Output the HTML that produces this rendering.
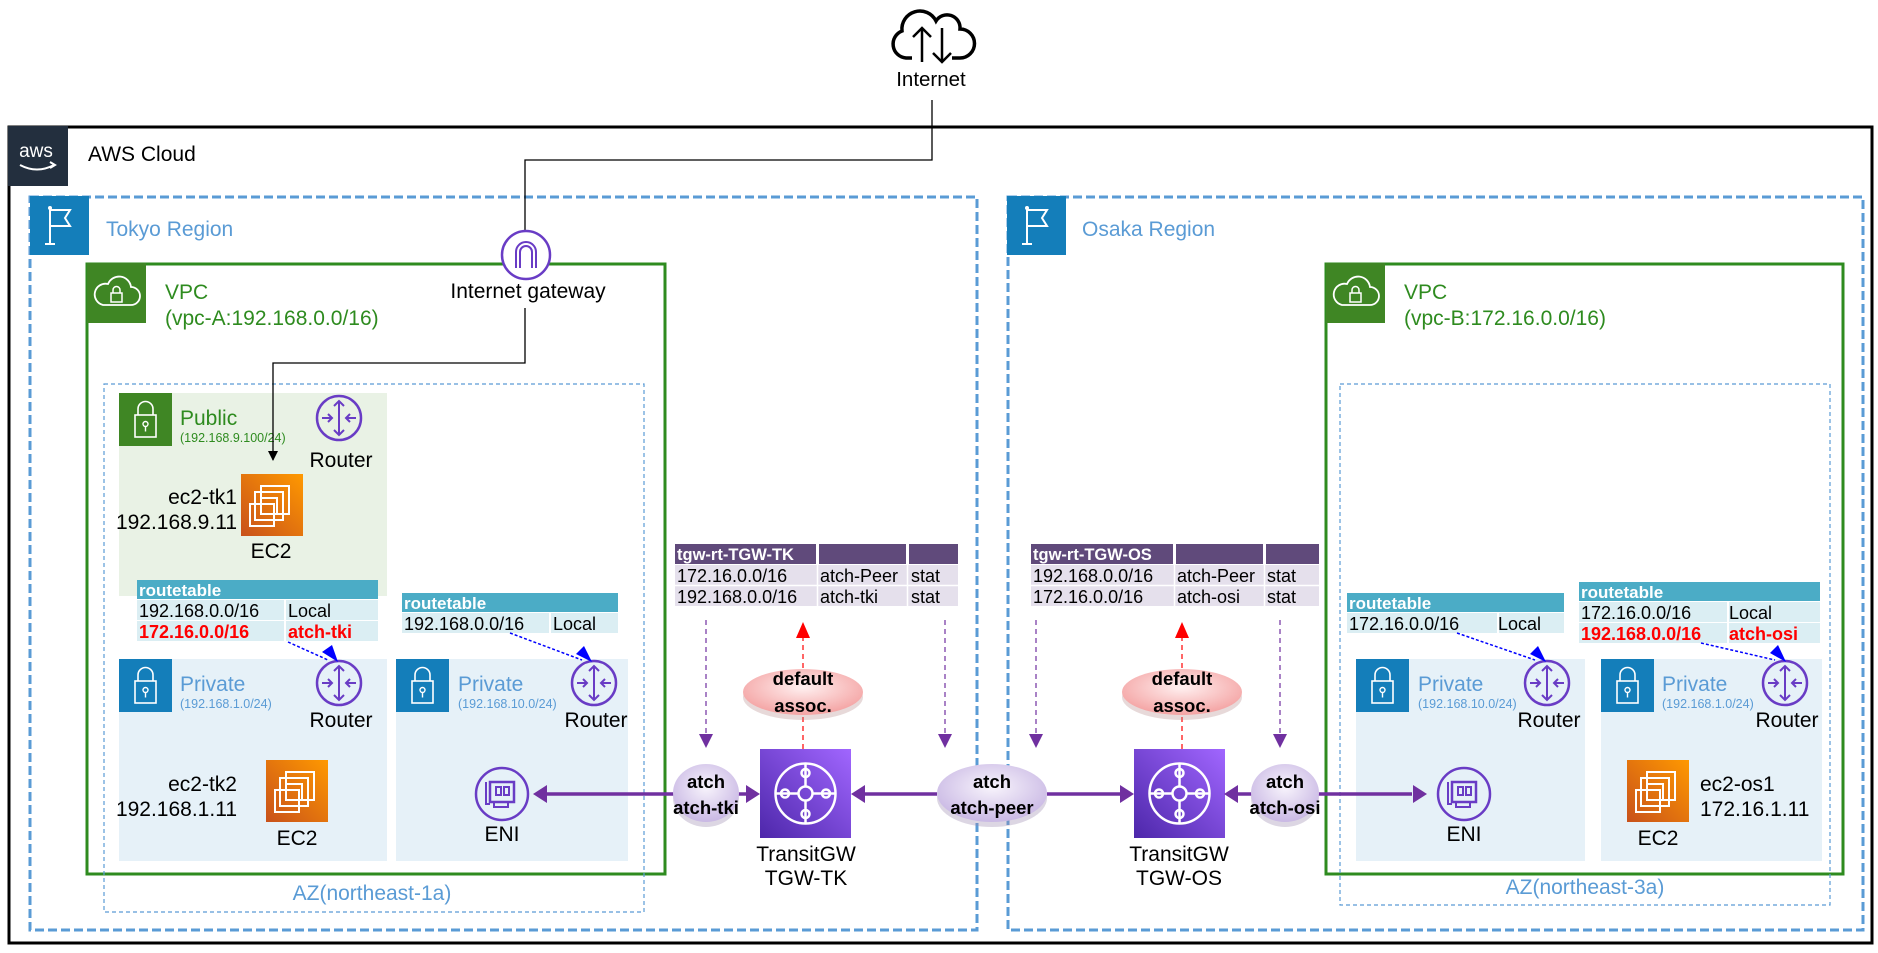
<!DOCTYPE html>
<html><head><meta charset="utf-8"><style>
html,body{margin:0;padding:0;background:#fff;}
svg{display:block;font-family:"Liberation Sans",Arial,sans-serif;}
</style></head><body>
<svg width="1878" height="953" viewBox="0 0 1878 953" xmlns="http://www.w3.org/2000/svg">
<defs>
<linearGradient id="ec2" x1="0" y1="1" x2="1" y2="0"><stop offset="0" stop-color="#c8511b"/><stop offset="1" stop-color="#ff9900"/></linearGradient>
<linearGradient id="tgw" x1="0" y1="1" x2="1" y2="0"><stop offset="0" stop-color="#4d27aa"/><stop offset="1" stop-color="#a166ff"/></linearGradient>
<radialGradient id="pinkE" cx="0.5" cy="0.4" r="0.6"><stop offset="0" stop-color="#fff0f0"/><stop offset="1" stop-color="#f4a3a3"/></radialGradient>
<radialGradient id="purE" cx="0.5" cy="0.4" r="0.6"><stop offset="0" stop-color="#f8f4fc"/><stop offset="1" stop-color="#c9b8e4"/></radialGradient>
<marker id="ab" markerWidth="10" markerHeight="10" refX="9" refY="5" orient="auto" markerUnits="userSpaceOnUse"><path d="M0,0 L10,5 L0,10 z" fill="#000"/></marker>
<g id="router"><circle r="22" fill="none" stroke="#693cc5" stroke-width="2.5"/><path d="M0,-17V17M-17,0h10M17,0h-10M-5,-12L0,-17L5,-12M-5,12L0,17L5,12M-11,-4L-7,0L-11,4M11,-4L7,0L11,4" fill="none" stroke="#693cc5" stroke-width="2"/></g>
<g id="eni"><circle r="26" fill="none" stroke="#693cc5" stroke-width="2.5"/><rect x="-12" y="-12" width="24" height="20" fill="none" stroke="#693cc5" stroke-width="2.5"/><rect x="-6" y="-7" width="5" height="8" fill="none" stroke="#693cc5" stroke-width="2"/><rect x="2" y="-7" width="5" height="8" fill="none" stroke="#693cc5" stroke-width="2"/><path d="M-16,-12v22h4M-8,8v5h14v-5" fill="none" stroke="#693cc5" stroke-width="2"/></g>
<g id="ec2i"><rect width="62" height="62" fill="url(#ec2)"/><rect x="20" y="12" width="28" height="28" fill="none" stroke="#fff" stroke-width="2"/><rect x="14" y="18" width="28" height="28" fill="none" stroke="#fff" stroke-width="2"/><rect x="20" y="24" width="16" height="16" fill="none" stroke="#fff" stroke-width="2"/><rect x="9" y="30" width="24" height="22" fill="none" stroke="#fff" stroke-width="2"/></g>
<g id="tgwi"><rect width="91" height="89" fill="url(#tgw)"/><g fill="none" stroke="#fff" stroke-width="2.5"><circle cx="45.5" cy="44.5" r="30"/><circle cx="45.5" cy="44.5" r="7"/><path d="M45.5,14.5V37.5M45.5,51.5V74.5M15.5,44.5H38.5M52.5,44.5H75.5"/><circle cx="45.5" cy="24" r="4"/><circle cx="45.5" cy="65" r="4"/><circle cx="25" cy="44.5" r="4"/><circle cx="66" cy="44.5" r="4"/></g></g>
<g id="lockB"><rect width="53" height="53" fill="#147eba"/><rect x="16" y="22" width="21" height="22" fill="none" stroke="#fff" stroke-width="1.6"/><path d="M19,22v-6a7.5,7.5 0 0 1 15,0v6" fill="none" stroke="#fff" stroke-width="1.6"/><circle cx="26.5" cy="31" r="2.5" fill="none" stroke="#fff" stroke-width="1.4"/><path d="M26.5,33.5v5" stroke="#fff" stroke-width="1.4"/></g>
<g id="lockG"><rect width="53" height="53" fill="#3f8624"/><rect x="16" y="22" width="21" height="22" fill="none" stroke="#fff" stroke-width="1.6"/><path d="M19,22v-6a7.5,7.5 0 0 1 15,0v6" fill="none" stroke="#fff" stroke-width="1.6"/><circle cx="26.5" cy="31" r="2.5" fill="none" stroke="#fff" stroke-width="1.4"/><path d="M26.5,33.5v5" stroke="#fff" stroke-width="1.4"/></g>
<g id="vpcI"><rect width="59" height="60" fill="#3f8624"/><path d="M16,42h28a9,9 0 0 0 0-18a12,12 0 0 0-23-3a10,10 0 0 0-5,21z" fill="none" stroke="#fff" stroke-width="1.8"/><rect x="24" y="30" width="11" height="9" fill="none" stroke="#fff" stroke-width="1.5"/><path d="M26,30v-3a3.5,3.5 0 0 1 7,0v3" fill="none" stroke="#fff" stroke-width="1.5"/></g>
<g id="regI"><rect width="59" height="59" fill="#147eba"/><path d="M20,12V48M15,48h10M20,14h20l-5,8 5,8H20" fill="none" stroke="#fff" stroke-width="2"/><circle cx="20" cy="12" r="2" fill="#fff"/></g>
</defs>

<!-- Internet -->
<path d="M912,58h-6a14,14 0 0 1-4-27a18,18 0 0 1 34-10a13,13 0 0 1 24,8a12,12 0 0 1 0,29h-8" fill="none" stroke="#000" stroke-width="3.5"/>
<path d="M922,62V28M913,37l9-9 9,9M942,28v34M933,53l9,9 9-9" fill="none" stroke="#000" stroke-width="2.5"/>
<text x="931" y="86" font-size="20.5" text-anchor="middle">Internet</text>

<!-- AWS cloud -->
<rect x="9" y="127" width="1863" height="816" fill="none" stroke="#000" stroke-width="3"/>
<rect x="8" y="126" width="60" height="60" fill="#232f3e"/>
<text x="36" y="157" font-size="19" fill="#fff" text-anchor="middle">aws</text>
<path d="M20,165q17,9 34,0M50,162l5,3-5,3" fill="none" stroke="#fff" stroke-width="2"/>
<text x="88" y="161" font-size="21">AWS Cloud</text>

<!-- Regions -->
<rect x="30" y="197" width="947" height="733" fill="none" stroke="#5a9bd5" stroke-width="3" stroke-dasharray="9,4"/>
<use href="#regI" x="30" y="196"/>
<text x="106" y="236" font-size="21" fill="#5a9bd5">Tokyo Region</text>
<rect x="1008" y="197" width="855" height="733" fill="none" stroke="#5a9bd5" stroke-width="3" stroke-dasharray="9,4"/>
<use href="#regI" x="1007" y="196"/>
<text x="1082" y="236" font-size="21" fill="#5a9bd5">Osaka Region</text>

<!-- VPCs -->
<rect x="87" y="264" width="578" height="610" fill="none" stroke="#2e8b1f" stroke-width="3"/>
<use href="#vpcI" x="87" y="263"/>
<text x="165" y="299" font-size="21" fill="#2e8b1f">VPC</text>
<text x="165" y="325" font-size="21" fill="#2e8b1f">(vpc-A:192.168.0.0/16)</text>
<rect x="1326" y="264" width="517" height="610" fill="none" stroke="#2e8b1f" stroke-width="3"/>
<use href="#vpcI" x="1326" y="263"/>
<text x="1404" y="299" font-size="21" fill="#2e8b1f">VPC</text>
<text x="1404" y="325" font-size="21" fill="#2e8b1f">(vpc-B:172.16.0.0/16)</text>

<!-- AZ -->
<rect x="104" y="384" width="540" height="528" fill="none" stroke="#5a9bd5" stroke-width="1.2" stroke-dasharray="4,3"/>
<text x="372" y="900" font-size="21" fill="#5a9bd5" text-anchor="middle">AZ(northeast-1a)</text>
<rect x="1340" y="384" width="490" height="521" fill="none" stroke="#5a9bd5" stroke-width="1.2" stroke-dasharray="4,3"/>
<text x="1585" y="894" font-size="21" fill="#5a9bd5" text-anchor="middle">AZ(northeast-3a)</text>

<!-- Public subnet -->
<rect x="119" y="393" width="268" height="203" fill="#e9f2e5"/>
<use href="#lockG" x="119" y="393"/>
<text x="180" y="425" font-size="21" fill="#2e8b1f">Public</text>
<text x="180" y="442" font-size="12.5" fill="#2e8b1f">(192.168.9.100/24)</text>
<use href="#router" x="339" y="418"/>
<text x="341" y="467" font-size="21" text-anchor="middle">Router</text>
<use href="#ec2i" x="241" y="474"/>
<text x="237" y="504" font-size="21" text-anchor="end">ec2-tk1</text>
<text x="237" y="529" font-size="21" text-anchor="end">192.168.9.11</text>
<text x="271" y="558" font-size="21" text-anchor="middle">EC2</text>

<!-- Private subnets Tokyo -->
<rect x="119" y="659" width="268" height="202" fill="#e6f1f8"/>
<use href="#lockB" x="119" y="659"/>
<text x="180" y="691" font-size="21" fill="#5a9bd5">Private</text>
<text x="180" y="708" font-size="12.5" fill="#5a9bd5">(192.168.1.0/24)</text>
<use href="#router" x="339" y="683"/>
<text x="341" y="727" font-size="21" text-anchor="middle">Router</text>
<use href="#ec2i" x="266" y="760"/>
<text x="237" y="791" font-size="21" text-anchor="end">ec2-tk2</text>
<text x="237" y="816" font-size="21" text-anchor="end">192.168.1.11</text>
<text x="297" y="845" font-size="21" text-anchor="middle">EC2</text>

<rect x="396" y="659" width="232" height="202" fill="#e6f1f8"/>
<use href="#lockB" x="396" y="659"/>
<text x="458" y="691" font-size="21" fill="#5a9bd5">Private</text>
<text x="458" y="708" font-size="12.5" fill="#5a9bd5">(192.168.10.0/24)</text>
<use href="#router" x="594" y="683"/>
<text x="596" y="727" font-size="21" text-anchor="middle">Router</text>
<use href="#eni" x="502" y="794"/>
<text x="502" y="841" font-size="21" text-anchor="middle">ENI</text>

<!-- Private subnets Osaka -->
<rect x="1356" y="659" width="229" height="202" fill="#e6f1f8"/>
<use href="#lockB" x="1356" y="659"/>
<text x="1418" y="691" font-size="21" fill="#5a9bd5">Private</text>
<text x="1418" y="708" font-size="12.5" fill="#5a9bd5">(192.168.10.0/24)</text>
<use href="#router" x="1547" y="683"/>
<text x="1549" y="727" font-size="21" text-anchor="middle">Router</text>
<use href="#eni" x="1464" y="794"/>
<text x="1464" y="841" font-size="21" text-anchor="middle">ENI</text>

<rect x="1601" y="659" width="221" height="202" fill="#e6f1f8"/>
<use href="#lockB" x="1601" y="659"/>
<text x="1662" y="691" font-size="21" fill="#5a9bd5">Private</text>
<text x="1662" y="708" font-size="12.5" fill="#5a9bd5">(192.168.1.0/24)</text>
<use href="#router" x="1785" y="683"/>
<text x="1787" y="727" font-size="21" text-anchor="middle">Router</text>
<use href="#ec2i" x="1627" y="760"/>
<text x="1700" y="791" font-size="21">ec2-os1</text>
<text x="1700" y="816" font-size="21">172.16.1.11</text>
<text x="1658" y="845" font-size="21" text-anchor="middle">EC2</text>

<!-- IGW -->
<path d="M932,100V160H525V231" fill="none" stroke="#000" stroke-width="1.3"/>
<circle cx="526" cy="255" r="24" fill="#fff" stroke="#693cc5" stroke-width="2.5"/>
<path d="M516,268v-16a10,10 0 0 1 20,0v16M520,268v-16a6,6 0 0 1 12,0v16" fill="none" stroke="#693cc5" stroke-width="2"/>
<text x="528" y="298" font-size="21" text-anchor="middle">Internet gateway</text>
<path d="M525,308V363H273V460" fill="none" stroke="#000" stroke-width="1.3" marker-end="url(#ab)"/>

<!-- route tables -->
<g font-size="18">
<rect x="137" y="580" width="241" height="19" fill="#4bacc6"/>
<text x="139" y="596" fill="#fff" font-weight="bold" font-size="17">routetable</text>
<rect x="137" y="600" width="147" height="20" fill="#dbeef3"/><rect x="286" y="600" width="92" height="20" fill="#dbeef3"/>
<rect x="137" y="621" width="147" height="20" fill="#dbeef3"/><rect x="286" y="621" width="92" height="20" fill="#dbeef3"/>
<text x="139" y="617">192.168.0.0/16</text><text x="288" y="617">Local</text>
<text x="139" y="638" fill="#ff0000" font-weight="bold">172.16.0.0/16</text><text x="288" y="638" fill="#ff0000" font-weight="bold">atch-tki</text>

<rect x="402" y="593" width="216" height="19" fill="#4bacc6"/>
<text x="404" y="609" fill="#fff" font-weight="bold" font-size="17">routetable</text>
<rect x="402" y="613" width="147" height="20" fill="#dbeef3"/><rect x="551" y="613" width="67" height="20" fill="#dbeef3"/>
<text x="404" y="630">192.168.0.0/16</text><text x="553" y="630">Local</text>

<rect x="1347" y="593" width="217" height="19" fill="#4bacc6"/>
<text x="1349" y="609" fill="#fff" font-weight="bold" font-size="17">routetable</text>
<rect x="1347" y="613" width="150" height="20" fill="#dbeef3"/><rect x="1499" y="613" width="65" height="20" fill="#dbeef3"/>
<text x="1349" y="630">172.16.0.0/16</text><text x="1498" y="630">Local</text>

<rect x="1579" y="582" width="241" height="19" fill="#4bacc6"/>
<text x="1581" y="598" fill="#fff" font-weight="bold" font-size="17">routetable</text>
<rect x="1579" y="602" width="148" height="20" fill="#dbeef3"/><rect x="1729" y="602" width="91" height="20" fill="#dbeef3"/>
<rect x="1579" y="623" width="148" height="20" fill="#dbeef3"/><rect x="1729" y="623" width="91" height="20" fill="#dbeef3"/>
<text x="1581" y="619">172.16.0.0/16</text><text x="1729" y="619">Local</text>
<text x="1581" y="640" fill="#ff0000" font-weight="bold">192.168.0.0/16</text><text x="1729" y="640" fill="#ff0000" font-weight="bold">atch-osi</text>

<!-- TGW tables -->
<rect x="675" y="544" width="141" height="20" fill="#604a7b"/><rect x="819" y="544" width="87" height="20" fill="#604a7b"/><rect x="909" y="544" width="49" height="20" fill="#604a7b"/>
<text x="677" y="560" fill="#fff" font-weight="bold" font-size="16.5">tgw-rt-TGW-TK</text>
<rect x="675" y="565" width="283" height="41" fill="#e5e0ec"/>
<path d="M675,585.5H958M817.5,565V606M907.5,565V606" stroke="#fff" stroke-width="1.5"/>
<text x="677" y="582">172.16.0.0/16</text><text x="820" y="582">atch-Peer</text><text x="911" y="582">stat</text>
<text x="677" y="603">192.168.0.0/16</text><text x="820" y="603">atch-tki</text><text x="911" y="603">stat</text>

<rect x="1031" y="544" width="142" height="20" fill="#604a7b"/><rect x="1176" y="544" width="87" height="20" fill="#604a7b"/><rect x="1266" y="544" width="53" height="20" fill="#604a7b"/>
<text x="1033" y="560" fill="#fff" font-weight="bold" font-size="16.5">tgw-rt-TGW-OS</text>
<rect x="1031" y="565" width="288" height="41" fill="#e5e0ec"/>
<path d="M1031,585.5H1319M1174.5,565V606M1264.5,565V606" stroke="#fff" stroke-width="1.5"/>
<text x="1033" y="582">192.168.0.0/16</text><text x="1177" y="582">atch-Peer</text><text x="1267" y="582">stat</text>
<text x="1033" y="603">172.16.0.0/16</text><text x="1177" y="603">atch-osi</text><text x="1267" y="603">stat</text>
</g>

<!-- blue dashed route arrows -->
<g stroke="#0000ff" stroke-width="1.5" stroke-dasharray="3,2" fill="none">
<path d="M288,642L328,660"/><path d="M510,633L582,660"/><path d="M1457,633L1535,660"/><path d="M1701,643L1775,660"/>
</g>
<g fill="#0000ff">
<path d="M338,662L322,652L332,645z"/><path d="M592,662L576,654L584,646z"/><path d="M1546,662L1530,654L1538,646z"/><path d="M1786,662L1770,653L1778,645z"/>
</g>

<!-- purple dashed down arrows -->
<g stroke="#7030a0" stroke-width="1.2" stroke-dasharray="5,4" fill="none">
<path d="M706,620V735"/><path d="M945,620V735"/><path d="M1036,620V735"/><path d="M1280,620V735"/>
</g>
<g fill="#7030a0">
<path d="M699,734h14l-7,14z"/><path d="M938,734h14l-7,14z"/><path d="M1029,734h14l-7,14z"/><path d="M1273,734h14l-7,14z"/>
</g>

<!-- red dashed up -->
<g stroke="#ff0000" stroke-width="1.2" stroke-dasharray="5,4" fill="none"><path d="M803,749V636"/><path d="M1182,749V636"/></g>
<g fill="#ff0000"><path d="M796,638h14l-7,-16z"/><path d="M1175,638h14l-7,-16z"/></g>

<!-- TGW -->
<use href="#tgwi" x="760" y="749"/>
<text x="806" y="861" font-size="21" text-anchor="middle">TransitGW</text>
<text x="806" y="885" font-size="21" text-anchor="middle">TGW-TK</text>
<use href="#tgwi" x="1134" y="749"/>
<text x="1179" y="861" font-size="21" text-anchor="middle">TransitGW</text>
<text x="1179" y="885" font-size="21" text-anchor="middle">TGW-OS</text>

<!-- purple connectors -->
<g stroke="#7030a0" stroke-width="3.5" fill="none">
<path d="M545,794H675"/><path d="M738,794H748"/><path d="M865,794H937"/><path d="M1047,794H1122"/><path d="M1238,794H1252"/><path d="M1318,794H1412"/>
</g>
<g fill="#7030a0">
<path d="M533,794l14,-9v18z"/><path d="M760,794l-14,-9v18z"/><path d="M851,794l14,-9v18z"/><path d="M1134,794l-14,-9v18z"/><path d="M1224,794l14,-9v18z"/><path d="M1427,794l-14,-9v18z"/>
</g>

<!-- ellipses -->
<ellipse cx="706" cy="798" rx="33" ry="29" fill="#9b8ab0" opacity="0.35"/>
<ellipse cx="706" cy="793" rx="33" ry="29" fill="url(#purE)"/>
<text x="706" y="788" font-size="18.5" font-weight="bold" text-anchor="middle">atch</text>
<text x="706" y="814" font-size="18.5" font-weight="bold" text-anchor="middle">atch-tki</text>
<ellipse cx="992" cy="798" rx="55" ry="29" fill="#9b8ab0" opacity="0.35"/>
<ellipse cx="992" cy="793" rx="55" ry="29" fill="url(#purE)"/>
<text x="992" y="788" font-size="18.5" font-weight="bold" text-anchor="middle">atch</text>
<text x="992" y="814" font-size="18.5" font-weight="bold" text-anchor="middle">atch-peer</text>
<ellipse cx="1285" cy="798" rx="34" ry="29" fill="#9b8ab0" opacity="0.35"/>
<ellipse cx="1285" cy="793" rx="34" ry="29" fill="url(#purE)"/>
<text x="1285" y="788" font-size="18.5" font-weight="bold" text-anchor="middle">atch</text>
<text x="1285" y="814" font-size="18.5" font-weight="bold" text-anchor="middle">atch-osi</text>

<ellipse cx="803" cy="697" rx="60" ry="23" fill="#b08080" opacity="0.3"/>
<ellipse cx="803" cy="692" rx="60" ry="23" fill="url(#pinkE)"/>
<text x="803" y="685" font-size="18.5" font-weight="bold" text-anchor="middle">default</text>
<text x="803" y="712" font-size="18.5" font-weight="bold" text-anchor="middle">assoc.</text>
<ellipse cx="1182" cy="697" rx="60" ry="23" fill="#b08080" opacity="0.3"/>
<ellipse cx="1182" cy="692" rx="60" ry="23" fill="url(#pinkE)"/>
<text x="1182" y="685" font-size="18.5" font-weight="bold" text-anchor="middle">default</text>
<text x="1182" y="712" font-size="18.5" font-weight="bold" text-anchor="middle">assoc.</text>
</svg>
</body></html>
